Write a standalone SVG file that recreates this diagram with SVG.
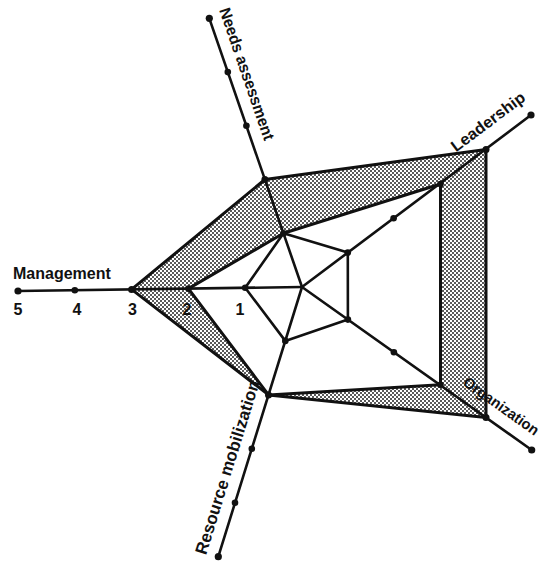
<svg xmlns="http://www.w3.org/2000/svg" width="544" height="569" viewBox="0 0 544 569">
<defs>
<pattern id="stipple" width="4" height="4" patternUnits="userSpaceOnUse">
<rect width="4" height="4" fill="#ffffff"/>
<circle cx="1" cy="1" r="1" fill="#222"/>
<circle cx="3" cy="3" r="1" fill="#222"/>
</pattern>
<style>
.ax{stroke:#111;stroke-width:2.6;fill:none;stroke-linecap:round}
.poly{stroke:#111;stroke-width:3;fill:none;stroke-linejoin:round}
.inner{stroke:#111;stroke-width:2.6;fill:none;stroke-linejoin:round}
.dot{fill:#111}
.lbl{font-family:"Liberation Sans",Arial,sans-serif;font-weight:bold;font-size:16px;fill:#111}
</style>
</defs>
<rect width="544" height="569" fill="#ffffff"/>

<g id="connectors">
<path d="M131.6,289.4 L264.9,179.5 L486,149.5 L486,417.4 L268.5,394.9 Z M188.4,288.6 L283.5,233.3 L440.5,184 L440.5,384.8 L268.5,394.9 Z" fill="url(#stipple)" fill-rule="evenodd" stroke="none"/>
<polygon class="poly" points="131.6,289.4 264.9,179.5 486,149.5 486,417.4 268.5,394.9"/>
<polygon class="poly" points="188.4,288.6 283.5,233.3 440.5,184 440.5,384.8 268.5,394.9"/>
<polygon class="inner" points="245.2,287.8 283.5,233.3 347.8,252.6 347.9,319.6 285.3,340.9"/>
</g>

<g id="management">
<line class="ax" x1="302" y1="287" x2="18" y2="291"/>
<circle class="dot" cx="18" cy="291" r="3.6"/>
<circle class="dot" cx="74.8" cy="290.2" r="3.3"/>
<circle class="dot" cx="131.6" cy="289.4" r="3.5"/>
<circle class="dot" cx="188.4" cy="288.6" r="3.3"/>
<circle class="dot" cx="245.2" cy="287.8" r="3.3"/>
<text class="lbl" x="13" y="279">Management</text>
<text class="lbl" x="18" y="315" text-anchor="middle">5</text>
<text class="lbl" x="77" y="315" text-anchor="middle">4</text>
<text class="lbl" x="132.5" y="315" text-anchor="middle">3</text>
<text class="lbl" x="187" y="315" text-anchor="middle">2</text>
<text class="lbl" x="240" y="315" text-anchor="middle">1</text>
</g>

<g id="needs-assessment">
<line class="ax" x1="302" y1="287" x2="209.3" y2="18.3"/>
<circle class="dot" cx="209.3" cy="18.3" r="3.6"/>
<circle class="dot" cx="227.8" cy="72.1" r="3.3"/>
<circle class="dot" cx="246.4" cy="125.8" r="3.3"/>
<circle class="dot" cx="264.9" cy="179.5" r="3.5"/>
<circle class="dot" cx="283.5" cy="233.3" r="3.3"/>
<text class="lbl" transform="translate(219,9.9) rotate(70.97)" textLength="139" lengthAdjust="spacingAndGlyphs">Needs assessment</text>
</g>

<g id="leadership">
<line class="ax" x1="302" y1="287" x2="531" y2="115"/>
<circle class="dot" cx="531" cy="115" r="3.6"/>
<circle class="dot" cx="486" cy="149.5" r="3.5"/>
<circle class="dot" cx="440.5" cy="184" r="3.3"/>
<circle class="dot" cx="393.6" cy="218.2" r="3.3"/>
<circle class="dot" cx="347.8" cy="252.6" r="3.3"/>
<text class="lbl" transform="translate(456.1,152.5) rotate(-36.9)" textLength="88" lengthAdjust="spacingAndGlyphs">Leadership</text>
</g>

<g id="organization">
<line class="ax" x1="302" y1="287" x2="531.7" y2="450"/>
<circle class="dot" cx="531.7" cy="450" r="3.6"/>
<circle class="dot" cx="486" cy="417.4" r="3.5"/>
<circle class="dot" cx="440.5" cy="384.8" r="3.3"/>
<circle class="dot" cx="393.9" cy="352.2" r="3.3"/>
<circle class="dot" cx="347.9" cy="319.6" r="3.3"/>
<text class="lbl" style="font-size:15px" transform="translate(462,384.6) rotate(35.36)" textLength="89" lengthAdjust="spacingAndGlyphs">Organization</text>
</g>

<g id="resource-mobilization">
<line class="ax" x1="302" y1="287" x2="218.3" y2="556.7"/>
<circle class="dot" cx="218.3" cy="556.7" r="3.6"/>
<circle class="dot" cx="235" cy="502.8" r="3.3"/>
<circle class="dot" cx="251.8" cy="448.8" r="3.3"/>
<circle class="dot" cx="268.5" cy="394.9" r="3.5"/>
<circle class="dot" cx="285.3" cy="340.9" r="3.3"/>
<text class="lbl" style="font-size:17px" transform="translate(206,555.6) rotate(-72.76)">Resource mobilization</text>
</g>
</svg>
